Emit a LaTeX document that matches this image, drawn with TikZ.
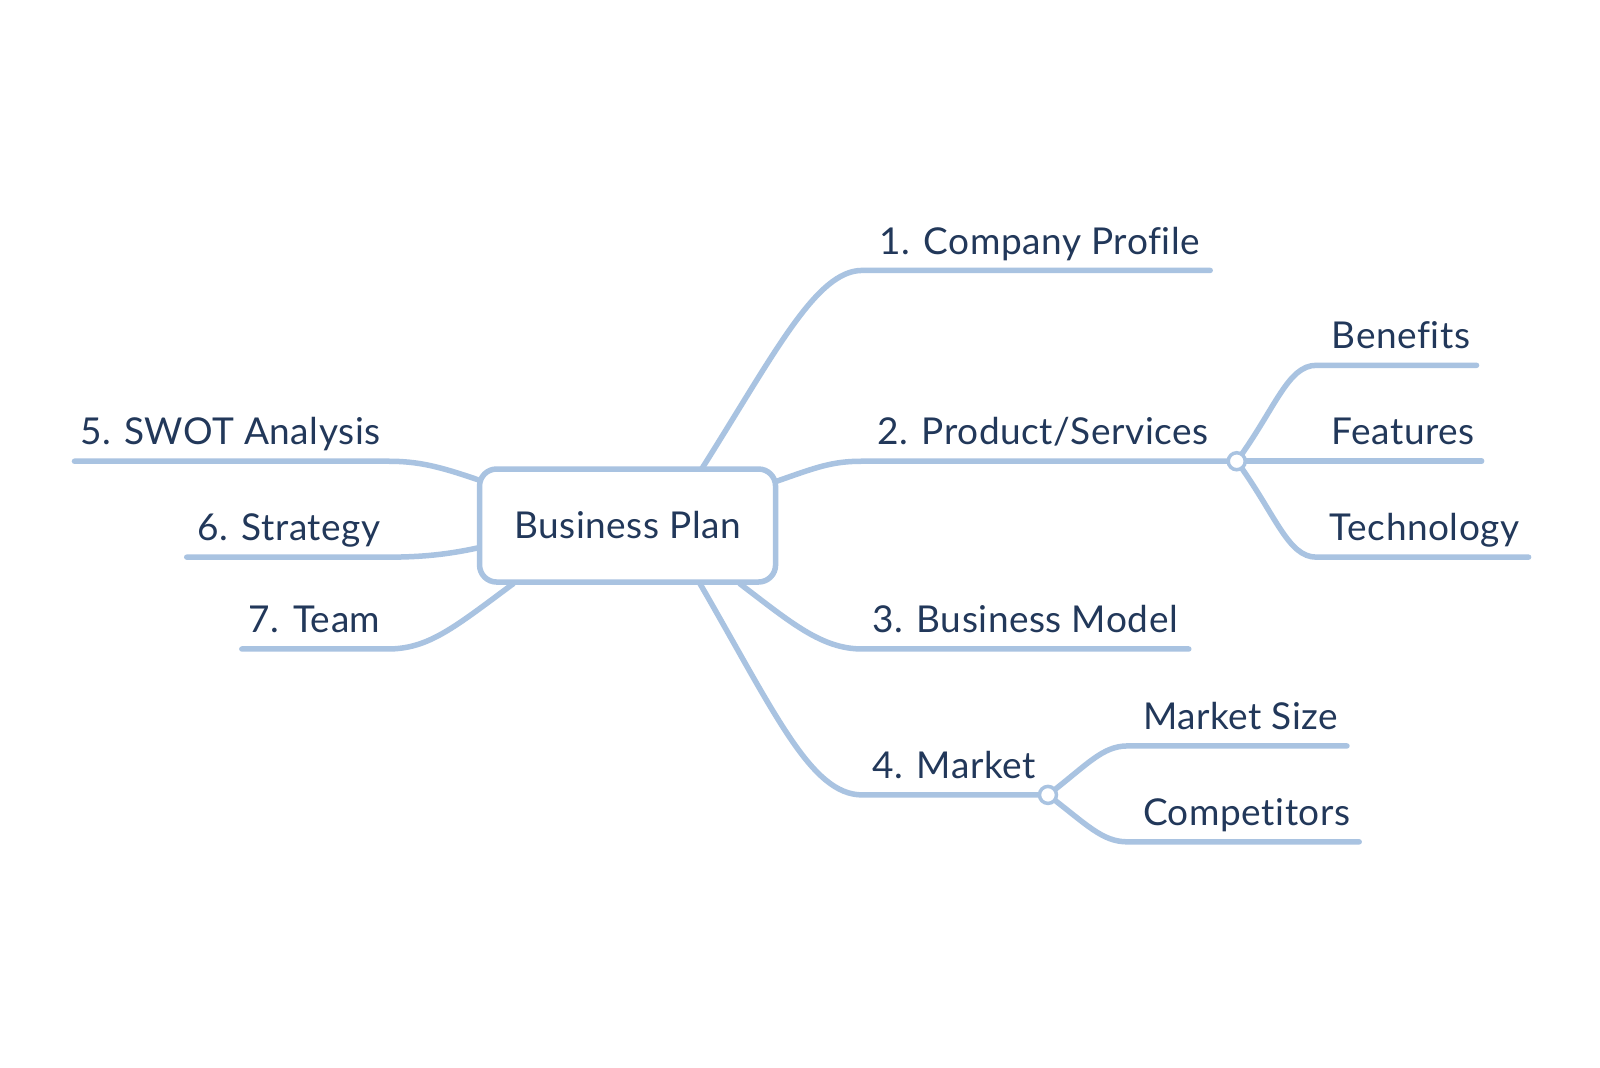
\documentclass[tikz,border=0pt]{standalone}
\usepackage{fontspec}
\setmainfont{Lato}[Ligatures=NoCommon,LetterSpace=1.5]
\definecolor{ln}{HTML}{A9C3E1}
\definecolor{tx}{HTML}{22385A}
\begin{document}
\begin{tikzpicture}[x=1.0204pt,y=-1.0204pt,
  br/.style={draw=ln,line width=5.5pt,line cap=round},
  lbl/.style={anchor=base west,inner sep=0pt,text=tx,font=\fontsize{37}{42}\selectfont},
  lblr/.style={lbl,anchor=base east},
  hub/.style={circle,draw=ln,fill=white,line width=3.5pt,minimum size=17pt,inner sep=0pt}]
\useasboundingbox (0,0) rectangle (1568,1045.7);
\fill[white] (0,0) rectangle (1568,1045.7);
% central box
\node[draw=ln,fill=white,line width=5.5pt,rounded corners=17pt,minimum width=296pt,minimum height=113pt,text=tx,font=\fontsize{37}{42}\selectfont] (box) at (615,515) {Business Plan};
% coordinates
\coordinate (s1) at (688,459); \coordinate (k1) at (845,265); \coordinate (e1) at (1186,265);
\coordinate (s2) at (760,472); \coordinate (k2) at (845,452);
\coordinate (s3) at (725,572); \coordinate (k3) at (845,636); \coordinate (e3) at (1165,636);
\coordinate (s4) at (686,572); \coordinate (k4) at (845,779);
\coordinate (s5) at (468,470); \coordinate (k5) at (380,452); \coordinate (e5) at (73,452);
\coordinate (s6) at (468,537); \coordinate (k6) at (380,546); \coordinate (e6) at (183,546);
\coordinate (s7) at (503,572); \coordinate (k7) at (380,636); \coordinate (e7) at (237,636);
\coordinate (kb) at (1290,358); \coordinate (eb) at (1447,358);
\coordinate (ef) at (1452,452);
\coordinate (kt) at (1290,546); \coordinate (et) at (1498,546);
\coordinate (km) at (1105,731); \coordinate (em) at (1320,731);
\coordinate (kc) at (1105,825); \coordinate (ec) at (1332,825);
\coordinate (h2) at (1212,452);
\coordinate (h4) at (1027,779);
% branches
\draw[br] (s1) .. controls (760,345) and (800,265) .. (k1) -- (e1);
\draw[br] (s2) .. controls (800,458) and (815,452) .. (k2) -- (h2);
\draw[br] (s3) .. controls (775,610) and (805,636) .. (k3) -- (e3);
\draw[br] (s4) .. controls (760,700) and (795,779) .. (k4) -- (h4);
\draw[br] (s5) .. controls (430,457) and (410,452) .. (k5) -- (e5);
\draw[br] (s6) .. controls (440,543) and (415,546) .. (k6) -- (e6);
\draw[br] (s7) .. controls (445,615) and (420,636) .. (k7) -- (e7);
\draw[br] (h2) .. controls (1250,400) and (1262,358) .. (kb) -- (eb);
\draw[br] (h2) -- (ef);
\draw[br] (h2) .. controls (1250,504) and (1262,546) .. (kt) -- (et);
\draw[br] (h4) .. controls (1065,750) and (1080,731) .. (km) -- (em);
\draw[br] (h4) .. controls (1065,808) and (1080,825) .. (kc) -- (ec);
\node[hub] (c2) at (h2) {};
\node[hub] (c4) at (h4) {};
% labels
\node[lbl] (t1) at (862,249) {1. Company Profile};
\node[lbl] (t2) at (860,436) {2. Product/Services};
\node[lbl] (t3) at (855,620) {3. Business Model};
\node[lbl] (t4) at (855,763) {4. Market};
\node[lblr] (t5) at (373,436) {5. SWOT Analysis};
\node[lblr] (t6) at (373,530) {6. Strategy};
\node[lblr] (t7) at (373,620) {7. Team};
\node[lbl] (tb) at (1305,342) {Benefits};
\node[lbl] (tf) at (1305,436) {Features};
\node[lbl] (tt) at (1303,530) {Technology};
\node[lbl] (tm) at (1120,715) {Market Size};
\node[lbl] (tc) at (1120,809) {Competitors};
\end{tikzpicture}
\end{document}
